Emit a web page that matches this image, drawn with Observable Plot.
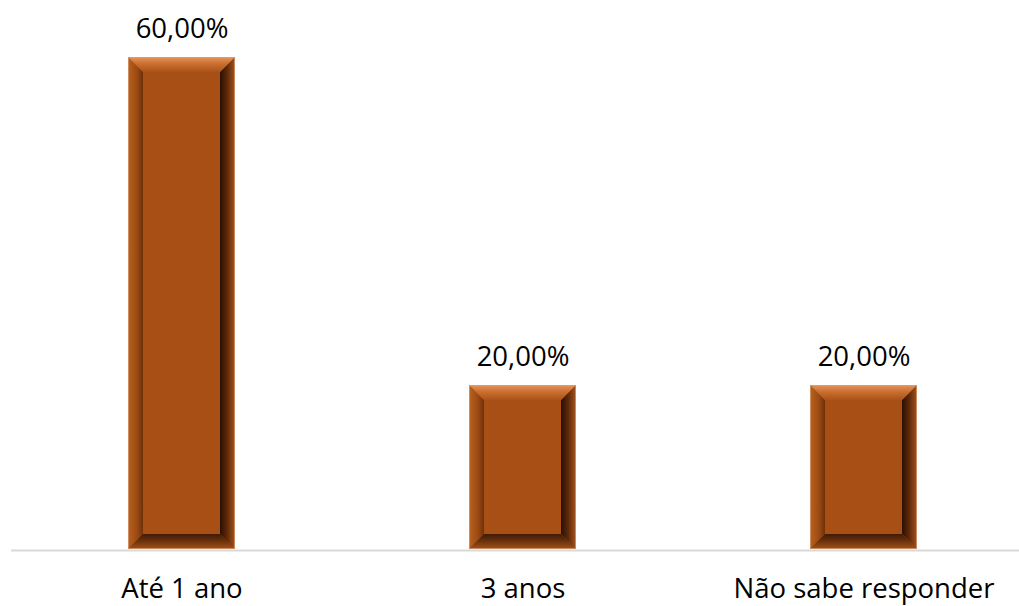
<!DOCTYPE html>
<html>
<head>
<meta charset="utf-8">
<script src="https://cdn.jsdelivr.net/npm/d3@7"></script>
<script src="https://cdn.jsdelivr.net/npm/@observablehq/plot@0.6"></script>
<style>
  html, body { margin: 0; padding: 0; background: #ffffff; }
  #chart svg { display: block; }
</style>
</head>
<body>
<div id="chart"></div>
<script>
const categories = ["Até 1 ano", "3 anos", "Não sabe responder"];
const values = [0.60, 0.20, 0.20];
const valueLabels = ["60,00%", "20,00%", "20,00%"];

const data = categories.map((c, i) => ({category: c, value: values[i], label: valueLabels[i]}));

const FONT = "'Open Sans', 'Noto Sans', sans-serif";

function bevel(index, scales, vals, dims, context, next) {
  const g = next(index, scales, vals, dims, context);
  const ns = "http://www.w3.org/2000/svg";
  const defs = document.createElementNS(ns, "defs");
  const grads = {
    top:    {x2: 0, y2: 1, stops: [["0%", "#e4955a"], ["45%", "#cc6e30"], ["100%", "#a9531a"]]},
    left:   {x2: 1, y2: 0, stops: [["0%", "#b8621f"], ["60%", "#9c4a14"], ["100%", "#6e300a"]]},
    right:  {x2: 1, y2: 0, stops: [["0%", "#2a1104"], ["45%", "#5a2708"], ["100%", "#a6541c"]]},
    bottom: {x2: 0, y2: 1, stops: [["0%", "#3e1a05"], ["50%", "#6e330c"], ["100%", "#a4521b"]]}
  };
  for (const [k, gd] of Object.entries(grads)) {
    const lg = document.createElementNS(ns, "linearGradient");
    lg.setAttribute("id", "bev-" + k);
    lg.setAttribute("x1", 0); lg.setAttribute("y1", 0);
    lg.setAttribute("x2", gd.x2); lg.setAttribute("y2", gd.y2);
    for (const [o, c] of gd.stops) {
      const s = document.createElementNS(ns, "stop");
      s.setAttribute("offset", o); s.setAttribute("stop-color", c);
      lg.appendChild(s);
    }
    defs.appendChild(lg);
  }
  g.insertBefore(defs, g.firstChild);
  for (const r of Array.from(g.querySelectorAll("rect"))) {
    const x = +r.getAttribute("x"), y = +r.getAttribute("y");
    const w = +r.getAttribute("width"), h = +r.getAttribute("height");
    const b = Math.min(15, w / 2, h / 2);
    const x0 = x, x1 = x + w, y0 = y, y1 = y + h;
    const polys = {
      top: [[x0, y0], [x1, y0], [x1 - b, y0 + b], [x0 + b, y0 + b]],
      bottom: [[x0 + b, y1 - b], [x1 - b, y1 - b], [x1, y1], [x0, y1]],
      left: [[x0, y0], [x0 + b, y0 + b], [x0 + b, y1 - b], [x0, y1]],
      right: [[x1 - b, y0 + b], [x1, y0], [x1, y1], [x1 - b, y1 - b]]
    };
    for (const k of ["left", "right", "bottom", "top"]) {
      const p = document.createElementNS(ns, "polygon");
      p.setAttribute("points", polys[k].map(d => d.join(",")).join(" "));
      p.setAttribute("fill", `url(#bev-${k})`);
      g.appendChild(p);
    }
    const edge = document.createElementNS(ns, "rect");
    edge.setAttribute("x", x0 + 0.5); edge.setAttribute("y", y0 + 0.5);
    edge.setAttribute("width", w - 1); edge.setAttribute("height", h - 1);
    edge.setAttribute("fill", "none");
    edge.setAttribute("stroke", "#d9a27a");
    edge.setAttribute("stroke-opacity", 0.7);
    edge.setAttribute("stroke-width", 1);
    g.appendChild(edge);
  }
  return g;
}

const chart = Plot.plot({
  width: 1019,
  height: 606,
  marginTop: 57,
  marginBottom: 57,
  marginLeft: 11,
  marginRight: 0,
  style: {fontFamily: FONT, background: "#ffffff"},
  x: {domain: categories, range: [10, 1034.5], paddingInner: 0.6867, paddingOuter: 0.34335, align: 0.5, label: null},
  y: {domain: [0, 0.6], axis: null},
  marks: [
    Plot.ruleY([0], {stroke: "#d9d9d9", strokeWidth: 2, dy: 1}),
    Plot.barY(data, {x: "category", y: "value", fill: "#a84f16", render: bevel}),
    Plot.text(data, {x: "category", y: "value", text: "label", dy: -28, fontSize: 27.5, fill: "#000000", fontFamily: FONT}),
    Plot.axisX({tickSize: 0, tickPadding: 29, fontSize: 27.5, fill: "#000000", fontFamily: FONT, label: null})
  ]
});

document.getElementById("chart").appendChild(chart);
</script>
</body>
</html>
